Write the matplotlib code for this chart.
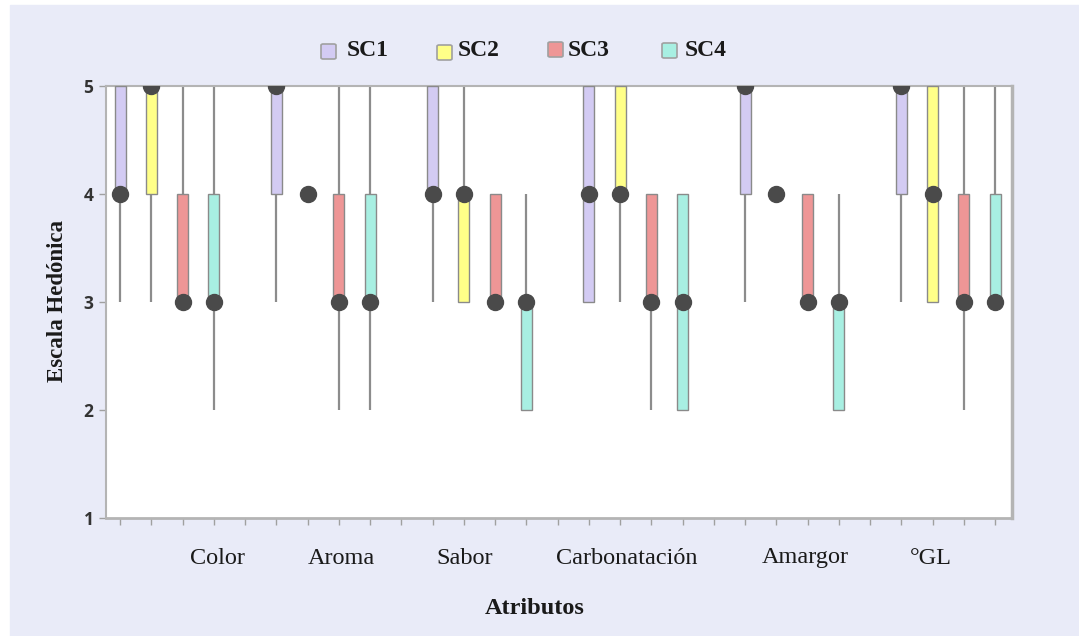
import matplotlib
matplotlib.use('Agg')
import matplotlib.pyplot as plt
import matplotlib.patches as patches
import numpy as np

# datos (escala hedonica 1-5)
categorias = ['Color', 'Aroma', 'Sabor', 'Carbonatación', 'Amargor', '°GL']
muestras = ['SC1', 'SC2', 'SC3', 'SC4']

sc1_q1 = [4, 4, 4, 3, 4, 4]
sc1_q3 = [5, 5, 5, 5, 5, 5]
sc1_med = [4, 5, 4, 4, 5, 5]
sc1_min = [3, 3, 3, 3, 3, 3]
sc1_max = [5, 5, 5, 5, 5, 5]

sc2_q1 = [4, 4, 3, 4, 4, 3]
sc2_q3 = [5, 4, 4, 5, 4, 5]
sc2_med = [5, 4, 4, 4, 4, 4]
sc2_min = [3, 4, 3, 3, 4, 3]
sc2_max = [5, 4, 5, 5, 4, 5]

sc3_q1 = [3, 3, 3, 3, 3, 3]
sc3_q3 = [4, 4, 4, 4, 4, 4]
sc3_med = [3, 3, 3, 3, 3, 3]
sc3_min = [3, 2, 3, 2, 3, 2]
sc3_max = [5, 5, 4, 4, 4, 5]

sc4_q1 = [3, 3, 2, 2, 2, 3]
sc4_q3 = [4, 4, 3, 4, 3, 4]
sc4_med = [3, 3, 3, 3, 3, 3]
sc4_min = [2, 2, 2, 2, 2, 3]
sc4_max = [5, 5, 4, 4, 4, 5]

q1s = [sc1_q1, sc2_q1, sc3_q1, sc4_q1]
q3s = [sc1_q3, sc2_q3, sc3_q3, sc4_q3]
meds = [sc1_med, sc2_med, sc3_med, sc4_med]
mins = [sc1_min, sc2_min, sc3_min, sc4_min]
maxs = [sc1_max, sc2_max, sc3_max, sc4_max]

colores = ['#D3CBF3', '#FFFF88', '#EE9696', '#A8EFE2']
fondo = '#E9EBF8'
W, H = 1079, 636

fig = plt.figure(figsize=(W / 100, H / 100), dpi=100, facecolor='white')
fig.patches.append(patches.Rectangle((10 / W, 0), 1 - 10 / W, 1 - 5 / H,
                                     transform=fig.transFigure, color=fondo, zorder=-10))
ax = fig.add_axes([106 / W, 1 - 518 / H, (1012 - 106) / W, (518 - 86) / H])
ax.set_facecolor('white')

ancho = 0.35
for i in range(len(muestras)):
    for j in range(len(categorias)):
        x = j * 5 + i
        ax.vlines(x, mins[i][j], maxs[i][j], color='#8c8c8c', lw=1.6, zorder=2)
        if q3s[i][j] > q1s[i][j]:
            ax.bar(x, q3s[i][j] - q1s[i][j], bottom=q1s[i][j], width=ancho,
                   color=colores[i], edgecolor='#8a8a8a', linewidth=1.0, zorder=3)
        ax.plot(x, meds[i][j], 'o', color='#4a4a4a', markersize=11.5, zorder=4)

ax.set_xlim(-0.45, 28.54)
ax.set_ylim(1, 5)
ax.set_xticks(np.arange(29))
ax.set_xticklabels([])
ax.set_yticks([1, 2, 3, 4, 5])
ax.tick_params(axis='x', length=5, color='#a0a0a0', width=1)
ax.tick_params(axis='y', length=5, color='#a0a0a0', width=1, pad=4)
for lab in ax.get_yticklabels():
    lab.set_fontfamily('Open Sans')
    lab.set_fontweight('bold')
    lab.set_fontsize(12.5)
    lab.set_color('#333333')
for s in ax.spines.values():
    s.set_color('#b4b4b4')
    s.set_linewidth(1.5)
ax.spines['right'].set_linewidth(2.5)
ax.spines['bottom'].set_linewidth(2.0)

# etiquetas de atributos
pos_etiq = [3.10, 7.07, 11.01, 16.22, 21.92, 25.95]
for p, c in zip(pos_etiq, categorias):
    ax.text(p, 1 - 40 / 108, c, ha='center', va='center', fontsize=17.5,
            family='Liberation Serif', color='#1a1a1a', clip_on=False)

fig.text(535 / W, 1 - 609 / H, 'Atributos', ha='center', va='center', fontsize=17.5,
         family='Liberation Serif', fontweight='bold', color='#1a1a1a')
fig.text(58 / W, 1 - 301 / H, 'Escala Hedónica', ha='center', va='center', fontsize=16.5,
         family='Liberation Serif', fontweight='bold', rotation=90, color='#1a1a1a')

# leyenda
cuadros = [(321, 44), (437, 45), (548, 42), (662, 43)]
textos_x = [347, 458, 568, 685]
for (cx, cy), tx, col, nom in zip(cuadros, textos_x, colores, muestras):
    fig.patches.append(patches.FancyBboxPatch((cx / W, 1 - (cy + 15) / H), 15 / W, 15 / H,
                                              boxstyle='round,pad=0,rounding_size=0.002',
                                              transform=fig.transFigure, facecolor=col,
                                              edgecolor='#a0a0a0', linewidth=1.2))
    fig.text(tx / W, 1 - 50 / H, nom, ha='left', va='center', fontsize=17,
             family='Liberation Serif', fontweight='bold', color='#1a1a1a')

fig.savefig('out.png', dpi=100, facecolor=fig.get_facecolor())
